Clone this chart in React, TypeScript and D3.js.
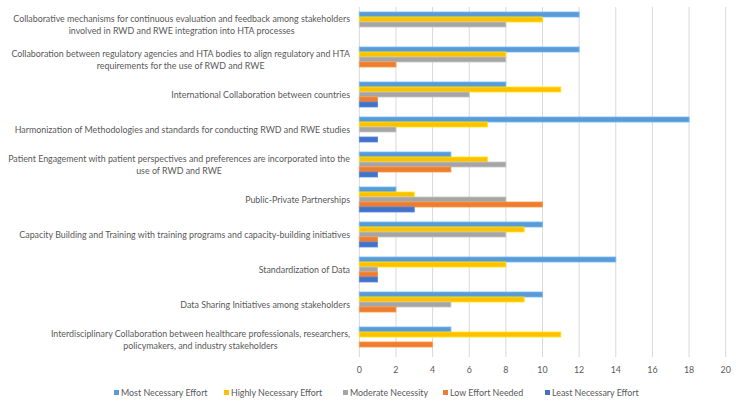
import { useEffect, useRef } from 'react'
import * as d3 from 'd3'

const categories = [
  'Collaborative mechanisms for continuous evaluation and feedback among stakeholders\ninvolved in RWD and RWE integration into HTA processes',
  'Collaboration between regulatory agencies and HTA bodies to align regulatory and HTA\nrequirements for the use of RWD and RWE',
  'International Collaboration between countries',
  'Harmonization of Methodologies and standards for conducting RWD and RWE studies',
  'Patient Engagement with patient perspectives and preferences are incorporated into the\nuse of RWD and RWE',
  'Public-Private Partnerships',
  'Capacity Building and Training with training programs and capacity-building initiatives',
  'Standardization of Data',
  'Data Sharing Initiatives among stakeholders',
  'Interdisciplinary Collaboration between healthcare professionals, researchers,\npolicymakers, and industry stakeholders',
]

const seriesNames = [
  'Most Necessary Effort',
  'Highly Necessary Effort',
  'Moderate Necessity',
  'Low Effort Needed',
  'Least Necessary Effort',
]

const seriesColors = ['#5b9bd5', '#ffc000', '#a5a5a5', '#ed7d31', '#4472c4']

const mostNecessary = [12, 12, 8, 18, 5, 2, 10, 14, 10, 5]
const highlyNecessary = [10, 8, 11, 7, 7, 3, 9, 8, 9, 11]
const moderate = [8, 8, 6, 2, 8, 8, 8, 1, 5, 0]
const lowEffort = [0, 2, 1, 0, 5, 10, 1, 1, 2, 4]
const leastNecessary = [0, 0, 1, 1, 1, 3, 1, 1, 0, 0]

const xTicks = [0, 2, 4, 6, 8, 10, 12, 14, 16, 18, 20]

const W = 736
const H = 404
const FONT = 'Lato, "Open Sans", sans-serif'
const TEXT = '#595959'

export default function App() {
  const svgRef = useRef<SVGSVGElement>(null)

  useEffect(() => {
    const svg = d3.select(svgRef.current)
    svg.selectAll('*').remove()

    const margin = { top: 7, right: 10, bottom: 47, left: 359.3 }
    const x = d3.scaleLinear().domain([0, 20]).range([margin.left, 725.7])
    const y = d3.scaleBand<number>()
      .domain(d3.range(categories.length))
      .range([margin.top, H - margin.bottom])
      .paddingInner(0.286)
      .paddingOuter(0.143)
    const inner = d3.scaleBand<number>()
      .domain(d3.range(seriesNames.length))
      .range([0, y.bandwidth()])

    const series = [mostNecessary, highlyNecessary, moderate, lowEffort, leastNecessary]

    svg.append('rect').attr('width', W).attr('height', H).attr('fill', '#fff')

    // fit the label font so the longest label line spans like the original
    const probe = svg.append('text')
      .attr('font-family', FONT)
      .attr('font-size', 10)
      .text(categories[0].split('\n')[0])
    const probeW = (probe.node() as SVGTextElement).getComputedTextLength()
    probe.remove()
    const fs = 10 * 337 / probeW

    // gridlines
    svg.append('g')
      .selectAll('line')
      .data(xTicks)
      .join('line')
      .attr('x1', d => x(d))
      .attr('x2', d => x(d))
      .attr('y1', margin.top)
      .attr('y2', H - margin.bottom)
      .attr('stroke', '#d9d9d9')
      .attr('stroke-width', 1)

    svg.append('g')
      .selectAll('text')
      .data(xTicks)
      .join('text')
      .attr('x', d => x(d))
      .attr('y', 370)
      .attr('dy', '0.35em')
      .attr('text-anchor', 'middle')
      .attr('fill', TEXT)
      .attr('font-family', FONT)
      .attr('font-size', fs)
      .text(d => d)

    // bars
    series.forEach((values, si) => {
      svg.append('g')
        .selectAll('rect')
        .data(values)
        .join('rect')
        .attr('x', x(0))
        .attr('y', (_, i) => (y(i) ?? 0) + (inner(si) ?? 0))
        .attr('width', d => x(d) - x(0))
        .attr('height', inner.bandwidth())
        .attr('fill', seriesColors[si])
        .attr('stroke', d3.color(seriesColors[si])!.brighter(0.5).formatHex())
        .attr('stroke-width', d => (d > 0 ? 0.8 : 0))
    })

    // category labels
    const labelRight = 350
    categories.forEach((cat, i) => {
      const lines = cat.split('\n')
      const cy = (y(i) ?? 0) + y.bandwidth() / 2
      const g = svg.append('g')
      const texts = g.selectAll('text')
        .data(lines)
        .join('text')
        .attr('y', (_, li) => cy + (li - (lines.length - 1) / 2) * 12)
        .attr('dy', '0.35em')
        .attr('text-anchor', 'middle')
        .attr('fill', TEXT)
        .attr('font-family', FONT)
        .attr('font-size', fs)
        .text(d => d)
      const widths = texts.nodes().map(n => (n as SVGTextElement).getComputedTextLength())
      const maxW = d3.max(widths) ?? 0
      texts.attr('x', labelRight - maxW / 2)
    })

    // legend
    const legendX = [114, 224, 343, 443, 545]
    const legend = svg.append('g')
      .selectAll('g')
      .data(seriesNames)
      .join('g')
      .attr('transform', (_, i) => `translate(${legendX[i]},392.5)`)
    legend.append('rect')
      .attr('x', 0)
      .attr('y', -2.5)
      .attr('width', 5)
      .attr('height', 5)
      .attr('fill', (_, i) => seriesColors[i])
    legend.append('text')
      .attr('x', 7)
      .attr('dy', '0.35em')
      .attr('fill', TEXT)
      .attr('font-family', FONT)
      .attr('font-size', fs)
      .text(d => d)
  }, [])

  return (
    <svg
      ref={svgRef}
      width={W}
      height={H}
      style={{ position: 'absolute', left: 0, top: 0, display: 'block' }}
    />
  )
}
